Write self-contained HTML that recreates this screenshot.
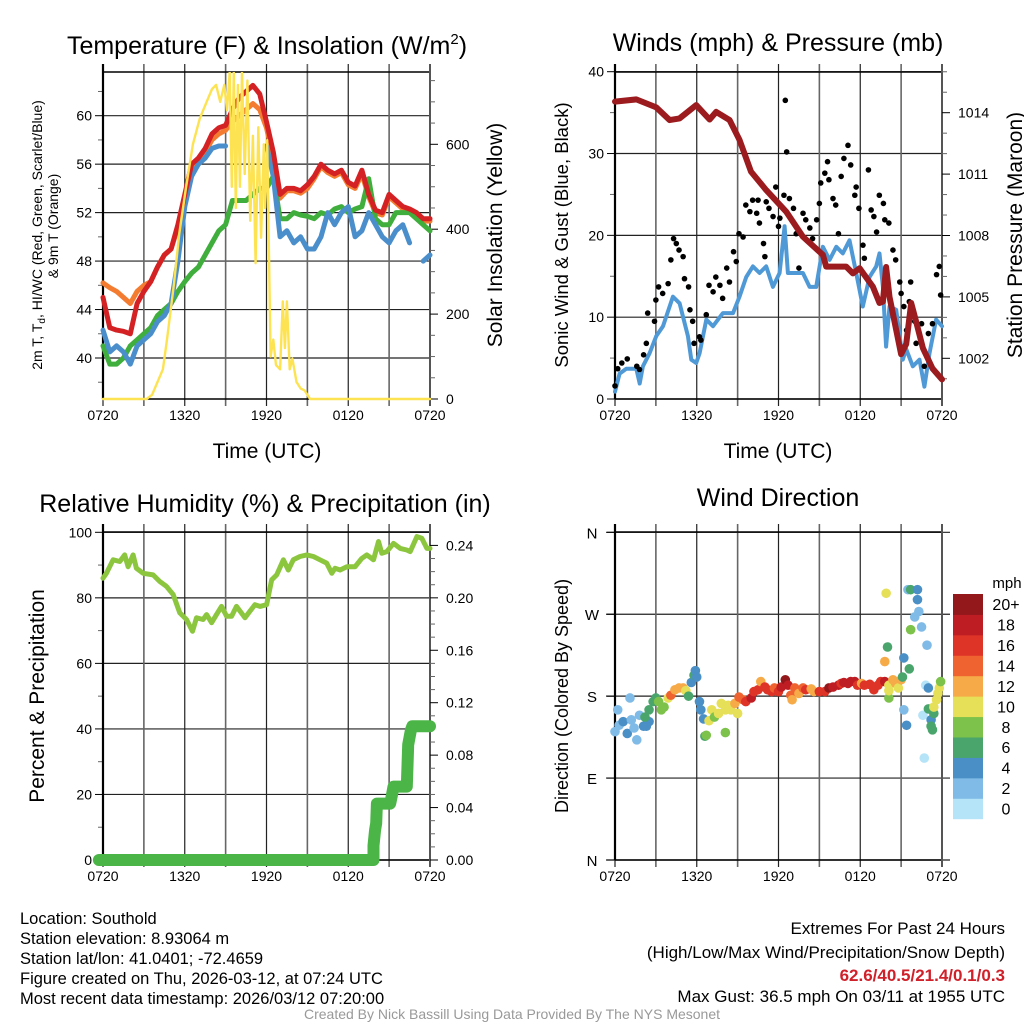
<!DOCTYPE html>
<html><head><meta charset="utf-8"><style>
html,body{margin:0;padding:0;background:#fff;}
body{width:1024px;height:1024px;overflow:hidden;position:relative;font-family:"Liberation Sans",Arial,sans-serif;}
svg{position:absolute;left:0;top:0;}
svg text{font-family:"Liberation Sans",Arial,sans-serif;fill:#000;}
</style></head><body>
<svg id="chart" width="1024" height="1024" viewBox="0 0 1024 1024" xmlns="http://www.w3.org/2000/svg">
<g id="g-tl"></g>
<g id="g-tr"></g>
<g id="g-bl"></g>
<g id="g-br"></g>
<g font-size="16.5">
<text x="20" y="924">Location: Southold</text>
<text x="20" y="944">Station elevation: 8.93064 m</text>
<text x="20" y="964">Station lat/lon: 41.0401; -72.4659</text>
<text x="20" y="984">Figure created on Thu, 2026-03-12, at 07:24 UTC</text>
<text x="20" y="1004">Most recent data timestamp: 2026/03/12 07:20:00</text>
</g>
<g font-size="17" text-anchor="end">
<text x="1005" y="934">Extremes For Past 24 Hours</text>
<text x="1005" y="958">(High/Low/Max Wind/Precipitation/Snow Depth)</text>
<text x="1005" y="981" font-weight="bold" style="fill:#d0202a">62.6/40.5/21.4/0.1/0.3</text>
<text x="1005" y="1002">Max Gust: 36.5 mph On 03/11 at 1955 UTC</text>
</g>
<text x="512" y="1019" font-size="14" text-anchor="middle" style="fill:#999">Created By Nick Bassill Using Data Provided By The NYS Mesonet</text>
</svg>
<script>
// ---------- data ----------
const hours = [0,0.5,1,1.5,2,2.5,3,3.5,4,4.5,5,5.5,6,6.5,7,7.5,8,8.5,9,9.5,10,10.5,11,11.5,12,12.5,13,13.5,14,14.5,15,15.5,16,16.5,17,17.5,18,18.5,19,19.5,20,20.5,21,21.5,22,22.5,23,23.5,24];
const timeLabels = ["0720","","1320","","1920","","0120","","0720"];
const tempRed = [45,42.5,42.3,42.2,42,44.5,45.5,46.3,47.5,48.5,49,51,53.5,56,56.5,57.3,58.5,59,59.2,60.5,61.5,62,62.5,61.8,59.5,57,53.5,54,54,53.8,54.3,55,56,55.5,55.2,55.5,54.5,54.2,55.5,53.5,52.2,52,53.5,53,52.5,52.3,52,51.5,51.5];
const tempOrange = [46.2,45.8,45.5,45,44.5,45.5,46,46.3,47.5,48.5,49,50.8,53.2,55.5,56,57,58,58.5,58.8,59.5,60,60.5,61,60.5,59,56.5,53.2,53.8,53.8,53.6,54,54.8,55.8,55.3,55,55.3,54.3,54,55.2,53.3,52,51.8,53.3,52.8,52.3,52.1,51.8,51.3,51.3];
const tempBlue = [42.3,40.5,41,40.5,39.5,41,41.5,42,43,43.5,44.5,48,52.5,55,56,56.5,57.3,57.5,57.5,null,null,null,null,null,57.5,55,50,50.5,49.5,50,49,49,50,52,51,52,52.5,50,50.5,52,51,50,49.5,50.5,51,49.5,null,48,48.5];
const tempGreen = [41,39.5,39.5,40,41,41.5,42,42.5,43.5,44,44.5,45.5,46.3,47,47.5,48.5,49.5,50.5,51,53,53,53,53.5,54,54,55,51.5,51.5,52,51.8,51.7,51.5,52,51.8,52.3,52.5,52,52.3,52.5,54.8,51.5,51,51,52,52,52,51.5,51,50.5];
const solarHours = [0,3.2,3.6,4,4.4,4.7,5.2,5.6,6.1,6.6,7.1,7.6,8,8.3,8.6,8.9,9.1,9.3,9.45,9.6,9.75,9.9,10.05,10.2,10.4,10.6,10.8,11,11.2,11.4,11.6,11.8,11.9,12.05,12.3,12.5,12.7,13,13.2,13.35,13.5,13.7,13.9,14.2,14.5,14.8,15.2,24];
const solarValues = [0,0,10,40,70,140,270,390,500,600,660,700,730,740,700,740,680,770,500,770,450,740,500,770,530,750,420,620,320,640,380,600,450,610,100,140,80,70,230,120,230,70,95,40,25,20,0,0];
const tempTicks = [40,44,48,52,56,60];
const solarTicks = [0,200,400,600];

const presHours = [0,1.56,3.03,4.01,4.74,5.96,6.94,7.43,8.41,9.14,9.98,11.1,12.57,13.79,15.26,15.5,16.97,17.46,17.95,18.93,19.41,19.66,19.9,20.15,21,21.37,21.74,22.1,22.6,23.3,24];
const presValues = [1014.54,1014.65,1014.26,1013.64,1013.72,1014.37,1013.67,1014.04,1013.64,1012.67,1011.12,1010.22,1009.16,1007.94,1007.05,1006.48,1006.48,1006.15,1006.4,1005.5,1004.7,1004.77,1006.46,1005.0,1002.2,1002.7,1004.7,1003.8,1002.5,1001.5,1000.97];
const windHours = [0,0.34,0.83,1.56,1.81,2.05,2.54,3.03,3.52,4.25,4.74,5.35,5.6,5.96,6.21,6.7,7.19,7.92,8.66,9.14,9.63,10.12,10.61,11.1,11.59,12.08,12.45,12.69,13.06,13.79,14.28,14.77,15.26,15.75,16.24,16.72,17.21,17.7,18.19,18.68,19.17,19.41,19.66,19.9,20.15,20.64,21.12,21.37,21.86,22.35,22.71,23.08,23.57,24];
const windSpeed = [0.9,3.1,3.7,3.7,1.9,4.0,5.6,7.7,8.9,12.5,11.7,7.7,4.8,4.4,5.6,9.7,8.9,10.5,10.5,12.5,14.9,16.2,15.4,16.2,13.7,15.4,21.1,15.4,15.4,15.4,13.7,13.7,18.6,17.0,18.6,17.8,19.4,15.4,11.3,14.9,16.2,17.8,13.7,6.4,11.3,10.9,4.8,6.1,4.0,4.8,1.5,5.6,9.7,8.9];
const gustHours = [0,0.2,0.5,0.9,1.6,1.8,2.1,2.3,2.4,2.9,3.0,3.2,3.5,3.9,4.1,4.3,4.5,4.7,5.0,5.1,5.4,5.5,5.7,5.8,6.2,6.3,6.7,6.9,7.2,7.4,7.7,7.9,8.2,8.4,8.7,8.9,9.1,9.4,9.6,9.9,10.1,10.4,10.5,10.6,10.9,11.0,11.1,11.3,11.6,11.8,12.0,12.1,12.4,12.5,12.6,12.8,13.1,13.3,13.5,13.8,14.0,14.3,14.5,14.8,15.0,15.1,15.4,15.6,15.7,16.0,16.2,16.4,16.6,16.8,17.1,17.3,17.6,17.7,17.9,18.2,18.3,18.6,18.8,19.0,19.2,19.4,19.7,19.8,20.1,20.4,20.6,20.9,21.0,21.2,21.4,21.6,21.7,22.0,22.1,22.5,22.7,23.0,23.3,23.6,23.8,23.9];
const gustSpeed = [1.6,3.7,4.4,4.9,4.0,3.6,5.4,6.8,10.5,9.5,12.1,13.7,12.9,14.1,17.0,19.6,19.0,18.2,17.4,14.7,13.7,10.9,9.5,6.8,7.6,7.2,10.3,13.9,13.1,14.9,13.9,12.3,16.0,14.3,18.0,16.8,20.2,19.8,23.7,22.9,24.3,22.7,24.3,21.5,19.0,17.4,24.1,23.3,22.3,25.9,21.1,22.1,24.9,36.5,30.2,24.5,23.3,20.2,16.0,22.7,21.9,20.9,19.6,21.9,23.9,26.4,27.6,29.0,26.8,24.5,23.7,20.2,27.2,29.4,31.0,28.6,24.9,25.9,23.3,18.8,17.2,28.0,23.1,22.3,20.4,24.9,23.9,21.9,21.5,18.2,17.0,14.3,12.9,11.3,8.4,11.9,14.3,9.5,6.8,9.2,4.0,8.0,9.2,15.2,16.2,12.7];
const windTicks = [0,10,20,30,40];
const presTicks = [1002,1005,1008,1011,1014];

const rhHours = [0,0.25,0.74,1.23,1.59,1.84,2.21,2.45,2.94,3.68,4.17,4.66,5.15,5.64,6.13,6.57,6.86,7.35,7.6,7.97,8.33,8.7,9.07,9.44,9.8,10.42,10.78,11.15,11.52,12.01,12.38,12.75,13.24,13.6,13.97,14.46,14.95,15.44,15.93,16.42,16.79,17.03,17.4,17.89,18.5,18.99,19.36,19.85,20.22,20.46,20.83,21.32,21.81,22.3,22.55,23.04,23.4,23.77,24];
const rhValues = [86,87.5,91.6,91.1,93.1,89.5,93.1,89,87.5,87,85,83.5,81,75.4,73.4,69.8,73.9,73.4,74.9,72.4,74.9,77.4,74.4,74.4,77.4,73.9,75.9,77.9,77.4,77.9,85.5,87,91.6,88.5,91.6,92.6,93.1,92.6,91.6,90.6,87.5,89,88.5,89.5,89.5,92,93.1,91.6,97.2,93.6,94.1,96.6,95.1,94.6,94.1,98.7,98.2,95.1,95.1];
const precipHours = [-0.3,19.85,19.85,19.97,20.05,20.1,21.08,21.2,21.32,22.3,22.4,22.6,22.7,24];
const precipValues = [0,0,0.011,0.023,0.028,0.043,0.043,0.049,0.056,0.056,0.088,0.099,0.102,0.102];
const rhTicks = [0,20,40,60,80,100];
const precipTicks = [0,0.04,0.08,0.12,0.16,0.20,0.24];

const dirHours = [0,0.2,0.3,0.6,0.9,1.1,1.2,1.4,1.6,1.8,2.1,2.3,2.5,2.2,2.5,2.8,3.0,3.2,3.4,3.6,3.9,4.1,4.4,4.7,5.0,5.2,5.4,5.6,5.8,5.9,6.0,6.2,6.3,6.5,6.6,6.7,6.9,7.1,7.3,7.6,7.8,8.1,8.1,8.3,8.5,8.8,9.0,9.1,9.4,9.6,10.0,10.2,10.5,10.7,11.0,11.2,11.5,11.7,12.0,12.2,12.5,12.7,12.9,13.0,13.2,13.5,13.8,14.0,14.4,14.6,15.0,15.4,15.7,16.0,16.4,16.6,16.8,17.1,17.3,17.6,17.8,18.1,18.3,18.7,19.0,19.3,19.5,19.8,19.9,20.0,19.8,20.1,20.1,20.1,20.4,20.6,20.8,21.0,21.1,21.2,21.2,21.4,21.5,21.6,21.7,21.7,22.0,22.2,22.2,22.3,22.5,22.6,22.7,22.9,22.8,23.0,23.0,23.2,23.2,23.3,23.4,23.4,23.6,23.7,23.8,23.9];
const dirDegrees = [141,165,148,152,139,178,154,145,132,159,147,147,152,157,165,174,178,174,165,168,178,181,187,189,189,186,180,195,203,208,201,174,165,155,136,137,153,165,157,161,172,165,140,170,165,172,161,179,176,174,178,185,187,196,190,187,185,189,185,190,198,192,181,176,189,183,189,187,188,185,185,185,189,190,192,194,195,194,196,196,192,194,192,193,187,192,196,196,293,234,218,192,178,186,198,194,189,198,201,222,165,148,297,210,297,253,267,286,297,273,256,159,112,236,192,189,166,154,147,143,161,168,176,183,189,196];
const dirSpeed = [2,2,2,4,4,2,2,2,2,2,4,4,4,6,6,6,6,8,8,8,10,14,12,12,12,10,6,4,6,4,4,4,4,4,6,8,10,10,8,10,10,10,8,10,10,12,10,14,14,16,18,16,16,12,16,16,16,14,16,18,20,18,14,12,14,12,14,16,12,12,16,16,20,18,18,16,18,18,18,18,16,12,16,16,16,16,16,18,10,6,12,10,8,10,12,12,10,12,6,4,2,4,2,6,6,8,2,4,4,2,2,0,0,2,0,4,6,4,6,6,6,10,10,10,10,8];
const dirLabels = ["N","E","S","W","N"];
const speedBins = ["0","2","4","6","8","10","12","14","16","18","20+"];
const speedColors = ["#b5e3f8","#7fbbe6","#4a8fc6","#4aa56c","#7dc24a","#e6df58","#f6ab48","#ef6330","#de3427","#bf1d24","#93181b"];

// ---------- helpers ----------
const NS = "http://www.w3.org/2000/svg";
function mk(parent, tag, attrs) {
  const el = document.createElementNS(NS, tag);
  for (const k in attrs) el.setAttribute(k, attrs[k]);
  parent.appendChild(el);
  return el;
}
function scale(d0, d1, r0, r1) { return v => r0 + (v - d0) / (d1 - d0) * (r1 - r0); }
function pathFrom(ts, vs, xs, ys) {
  let d = "", pen = false;
  for (let i = 0; i < ts.length; i++) {
    if (vs[i] === null) { pen = false; continue; }
    d += (pen ? "L" : "M") + xs(ts[i]).toFixed(1) + "," + ys(vs[i]).toFixed(1);
    pen = true;
  }
  return d;
}
function txt(parent, x, y, s, size, anchor, extra) {
  const t = mk(parent, "text", Object.assign({x: x, y: y, "font-size": size, "text-anchor": anchor || "start"}, extra || {}));
  t.textContent = s;
  return t;
}
function frame(g, x0, x1, y0, y1, xs, yLeftTicks, ysL, leftMinor, extendGrid) {
  const gl = extendGrid || [x0, x1];
  yLeftTicks.forEach(v => {
    const l = mk(g, "line", {x1: gl[0], x2: gl[1], y1: ysL(v), y2: ysL(v), stroke: "#222", "stroke-width": 1.2});
    
    
    const tk = mk(g, "line", {x1: x0 - 8, x2: x0, y1: ysL(v), y2: ysL(v), stroke: "#000", "stroke-width": 1});
    
    
  });
  leftMinor.forEach(v => {
    const tk = mk(g, "line", {x1: x0 - 5, x2: x0, y1: ysL(v), y2: ysL(v), stroke: "#666", "stroke-width": 1});
    
    
  });
  for (let i = 0; i <= 8; i++) {
    const x = xs(i * 3);
    const l = mk(g, "line", {x1: x, x2: x, y1: y0 - 8, y2: y1 + 7, stroke: (i % 2 ? "#666" : "#222"), "stroke-width": (i % 2 ? 1.6 : 1.2)});
    
    
    if (timeLabels[i]) {
      const t = txt(g, x, y1 + 21, timeLabels[i], 14, "middle");
      
      
    }
  }
  const top = mk(g, "line", {x1: x0, x2: x1, y1: y0, y2: y0, stroke: "#000", "stroke-width": 1.5});
  
  
  const bot = mk(g, "line", {x1: x0, x2: x1, y1: y1, y2: y1, stroke: "#000", "stroke-width": 1.5});
  
  
  const la = mk(g, "line", {x1: x0, x2: x0, y1: y0 - 8, y2: y1, stroke: "#000", "stroke-width": 2.2});
  
  
  const ra = mk(g, "line", {x1: x1, x2: x1, y1: y0 - 8, y2: y1 + 7, stroke: "#555", "stroke-width": 2});
  
  
}
function rightTicks(g, x1, ticks, ys, labels, minor) {
  ticks.forEach((v, i) => {
    const tk = mk(g, "line", {x1: x1, x2: x1 + 8, y1: ys(v), y2: ys(v), stroke: "#000", "stroke-width": 1});
    
    
    const t = txt(g, x1 + 16, ys(v) + 5, labels[i], 14, "start");
    
    
  });
  minor.forEach(v => {
    const tk = mk(g, "line", {x1: x1, x2: x1 + 5, y1: ys(v), y2: ys(v), stroke: "#666", "stroke-width": 1});
    
    
  });
}
function leftLabels(g, x0, ticks, ys, labels) {
  ticks.forEach((v, i) => {
    const t = txt(g, x0 - 11, ys(v) + 5, labels[i], 14, "end");
    
    
  });
}
function series(g, ts, vs, xs, ys, color, w, name) {
  const p = mk(g, "path", {d: pathFrom(ts, vs, xs, ys), fill: "none", stroke: color, "stroke-width": w, "stroke-linejoin": "round", "stroke-linecap": "round"});
  
  
  return p;
}

// ---------- Panel 1: temperature ----------
(function () {
  const g = document.getElementById("g-tl");
  const x0 = 103, x1 = 430, y0 = 72, y1 = 399;
  const xs = scale(0, 24, x0, x1);
  const ys = scale(40, 60, 358, 115.7);
  const ysS = scale(0, 600, 399, 144.3);
  const minor = []; for (let v = 38; v <= 62; v += 4) minor.push(v);
  frame(g, x0, x1, y0, y1, xs, tempTicks, ys, minor);
  const sMinor = []; for (let v = 50; v <= 750; v += 50) if (v % 200) sMinor.push(v);
  rightTicks(g, x1, solarTicks, ysS, solarTicks.map(String), sMinor);
  leftLabels(g, x0, tempTicks, ys, tempTicks.map(String));
  const clip = mk(g, "clipPath", {id: "clip-tl"});
  mk(clip, "rect", {x: x0 - 6, y: y0, width: x1 - x0 + 12, height: y1 - y0 + 6});
  const sg = mk(g, "g", {"clip-path": "url(#clip-tl)"});
  series(sg, hours, tempOrange, xs, ys, "#f47c30", 5, "series-9m-temp");
  series(sg, hours, tempGreen, xs, ys, "#3fae3c", 5, "series-dewpoint");
  series(sg, hours, tempBlue, xs, ys, "#4a8fcc", 5, "series-windchill");
  series(sg, hours, tempRed, xs, ys, "#d42124", 5, "series-2m-temp");
  series(sg, solarHours, solarValues, xs, ysS, "#fde352", 2.4, "series-solar-insolation");
  const t = txt(g, 267, 54, "Temperature (F) & Insolation (W/m", 25, "middle");
  const sup = mk(t, "tspan", {dy: -10, "font-size": 15}); sup.textContent = "2";
  const cl = mk(t, "tspan", {dy: 10}); cl.textContent = ")";
  
  
  const xt = txt(g, 267, 458, "Time (UTC)", 21, "middle");
  
  
  const yl1 = txt(g, 0, 0, "2m T, T", 14, "middle", {transform: "translate(42,235) rotate(-90)"});
  const sb = mk(yl1, "tspan", {dy: 3, "font-size": 10}); sb.textContent = "d";
  const rest = mk(yl1, "tspan", {dy: -3}); rest.textContent = ", HI/WC (Red, Green, Scarlet/Blue)";
  
  
  const yl2 = txt(g, 0, 0, "& 9m T (Orange)", 14, "middle", {transform: "translate(58,226) rotate(-90)"});
  
  
  const rt = txt(g, 0, 0, "Solar Insolation (Yellow)", 21, "middle", {transform: "translate(502,235) rotate(-90)"});
  
  
})();

// ---------- Panel 2: winds & pressure ----------
(function () {
  const g = document.getElementById("g-tr");
  const x0 = 615, x1 = 942, y0 = 72, y1 = 399;
  const xs = scale(0, 24, x0, x1);
  const ys = scale(0, 40, 399, 71.7);
  const yp = scale(1002, 1014, 358.3, 112.7);
  frame(g, x0, x1, y0, y1, xs, windTicks, ys, [5, 15, 25, 35]);
  const pm = []; for (let v = 1001; v <= 1016; v++) if ((v - 1002) % 3) pm.push(v);
  rightTicks(g, x1, presTicks, yp, presTicks.map(String), pm);
  leftLabels(g, x0, windTicks, ys, windTicks.map(String));
  const clip = mk(g, "clipPath", {id: "clip-tr"});
  mk(clip, "rect", {x: x0 - 6, y: y0, width: x1 - x0 + 12, height: y1 - y0 + 6});
  const sg = mk(g, "g", {"clip-path": "url(#clip-tr)"});
  series(sg, windHours, windSpeed, xs, ys, "#4f9ad6", 4, "series-wind-speed");
  gustHours.forEach((h, i) => {
    const c = mk(sg, "circle", {cx: xs(h), cy: ys(gustSpeed[i]), r: 2.8, fill: "#000"});
    
    
  });
  series(sg, presHours, presValues, xs, yp, "#9b1b1e", 6, "series-station-pressure");
  const t = txt(g, 778, 51, "Winds (mph) & Pressure (mb)", 25, "middle");
  
  
  const xt = txt(g, 778, 458, "Time (UTC)", 21, "middle");
  
  
  const yl = txt(g, 0, 0, "Sonic Wind & Gust (Blue, Black)", 18.5, "middle", {transform: "translate(568,235) rotate(-90)"});
  
  
  const rt = txt(g, 0, 0, "Station Pressure (Maroon)", 21, "middle", {transform: "translate(1022,235) rotate(-90)"});
  
  
})();

// ---------- Panel 3: RH & precip ----------
(function () {
  const g = document.getElementById("g-bl");
  const x0 = 103, x1 = 430, y0 = 532, y1 = 860;
  const xs = scale(0, 24, x0, x1);
  const ys = scale(0, 100, 860, 532.3);
  const yp = scale(0, 0.25, 860, 532.3);
  frame(g, x0, x1, y0, y1, xs, rhTicks, ys, [10, 30, 50, 70, 90]);
  const pm = []; for (let v = 0.01; v < 0.25; v += 0.01) { const r = Math.round(v * 100); if (r % 4) pm.push(r / 100); }
  rightTicks(g, x1, precipTicks, yp, precipTicks.map(v => v.toFixed(2)), pm);
  leftLabels(g, x0, rhTicks, ys, rhTicks.map(String));
  series(g, rhHours, rhValues, xs, ys, "#8cc63f", 5, "series-relative-humidity");
  series(g, precipHours, precipValues, xs, yp, "#4bb548", 12, "series-precipitation");
  const t = txt(g, 265, 512, "Relative Humidity (%) & Precipitation (in)", 25, "middle");
  
  
  const yl = txt(g, 0, 0, "Percent & Precipitation", 21, "middle", {transform: "translate(44,696) rotate(-90)"});
  
  
})();

// ---------- Panel 4: wind direction ----------
(function () {
  const g = document.getElementById("g-br");
  const x0 = 615, x1 = 942, y0 = 532, y1 = 860;
  const xs = scale(0, 24, x0, x1);
  const ys = scale(0, 360, 860, 532.3);
  const dirTicks = [0, 90, 180, 270, 360];
  frame(g, x0, x1, y0, y1, xs, dirTicks, ys, [], [606, 950]);
  dirTicks.forEach((v, i) => {
    const t = txt(g, 592, ys(v) + 6, dirLabels[i], 15, "middle");
    
    
  });
  dirHours.forEach((h, i) => {
    const bin = Math.min(10, Math.floor(dirSpeed[i] / 2));
    const c = mk(g, "circle", {cx: xs(h), cy: ys(dirDegrees[i]), r: 4.8, fill: speedColors[bin]});
    
    
  });
  const t = txt(g, 778, 506, "Wind Direction", 25, "middle");
  
  
  const yl = txt(g, 0, 0, "Direction (Colored By Speed)", 18, "middle", {transform: "translate(568,696) rotate(-90)"});
  
  
  const bh = (818.7 - 594) / 11;
  speedBins.forEach((lab, i) => {
    const y = 818.7 - (i + 1) * bh;
    const r = mk(g, "rect", {x: 953, y: y, width: 30, height: bh + 0.5, fill: speedColors[i]});
    
    
    const tl = txt(g, 1006, y + bh / 2 + 6, lab, 16, "middle");
    
    
  });
  const u = txt(g, 1007, 588, "mph", 15, "middle");
  
  
})();
</script>
</body></html>
